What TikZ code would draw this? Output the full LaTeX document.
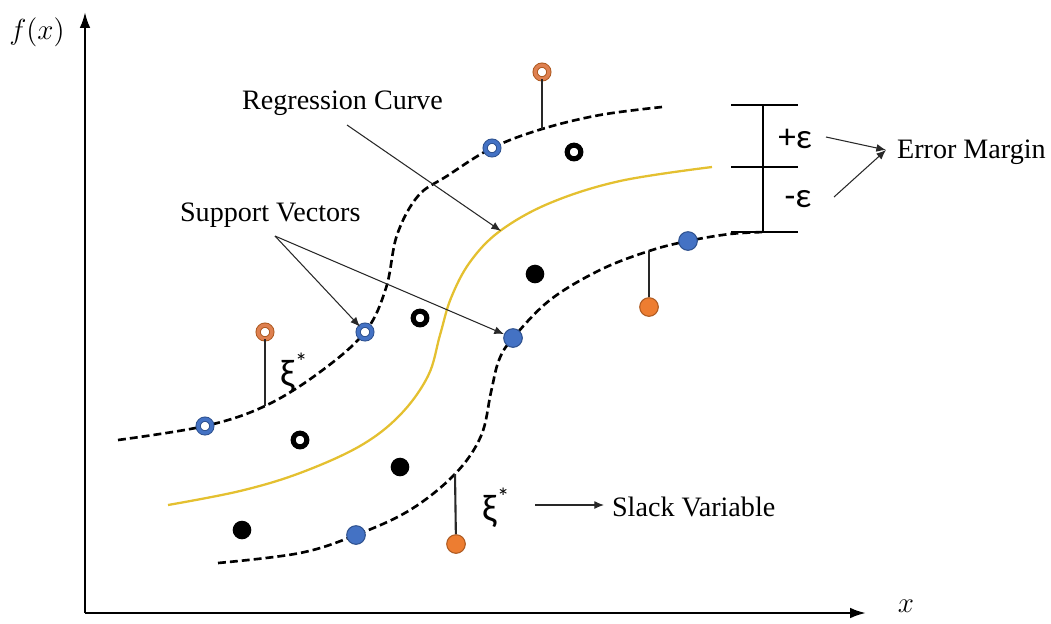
\documentclass[tikz,border=0pt]{standalone}
\usepackage{fix-cm}
\usepackage{fontspec}
\setmainfont{Liberation Serif}
\newfontfamily\calib{Carlito}
\usetikzlibrary{arrows.meta}
\definecolor{ptblue}{RGB}{68,114,196}
\definecolor{ptblueD}{RGB}{47,82,143}
\definecolor{ptorange}{RGB}{237,125,49}
\definecolor{ptorangeD}{RGB}{174,90,33}
\definecolor{ringbrown}{RGB}{222,128,80}
\definecolor{curveyellow}{RGB}{228,192,48}
\definecolor{stemgray}{RGB}{40,40,40}
\tikzset{
  lbl/.style={font=\fontsize{16}{18}\selectfont, inner sep=1pt},
  gk/.style={font=\calib\fontsize{20}{22}\selectfont, inner sep=1pt},
  xilbl/.style={font=\calib\fontsize{22}{24}\selectfont, inner sep=1pt},
  mathlbl/.style={font=\fontsize{16.5}{18}\selectfont, inner sep=1pt},
  dot/.style={circle, inner sep=0pt, minimum size=10.6pt},
  bluedot/.style={dot, fill=ptblue, draw=ptblueD, line width=0.6pt},
  orangedot/.style={dot, fill=ptorange, draw=ptorangeD, line width=0.6pt},
  blackdot/.style={dot, fill=black},
  ringbase/.style={circle, inner sep=0pt, minimum size=7.8pt, fill=white},
  bluering/.style={ringbase, draw=ptblueD, double=ptblue, double distance=1.9pt, line width=0.55pt},
  brownring/.style={ringbase, draw=ptorangeD, double=ringbrown, double distance=1.9pt, line width=0.55pt},
  blackring/.style={ringbase, draw=black, line width=2.9pt},
  margin/.style={line width=1.5pt, dash pattern=on 4.5pt off 2.3pt, line cap=butt},
  regcurve/.style={line width=1.3pt, draw=curveyellow},
  stem/.style={line width=1.2pt, draw=stemgray},
  arr/.style={line width=0.6pt, draw=stemgray, -{Latex[length=5.5pt, width=4.5pt]}},
  axis/.style={line width=1.3pt, -{Latex[length=9pt, width=6pt]}},
  bar/.style={line width=1.3pt}
}
\begin{document}
\begin{tikzpicture}[x=0.02cm, y=-0.02cm]
\useasboundingbox (0,0) rectangle (1051,623);

% axes
\coordinate (O) at (85,613);
\coordinate (yT) at (85,12);
\coordinate (xT) at (866,613);
\draw[axis] (O) -- (yT);
\draw[axis] (O) -- (xT);
\node[mathlbl] (fx) at (37,32) {$f(x)$};
\node[mathlbl] (xl) at (906,606) {$x$};

% margin curves and regression curve
\draw[margin] plot[smooth, tension=0.6] coordinates {(118,440) (205,426) (265,406) (320,372) (365,332) (386,288) (397,235) (418,196) (447,176) (492,148) (542,129) (600,115) (662,107)};
\draw[regcurve] plot[smooth, tension=0.6] coordinates {(168,505) (240,491) (300,473) (360,446) (400,415) (428,376) (440,335) (451,298) (470,262) (500,231) (550,203) (620,181) (712,167)};
\draw[margin] plot[smooth, tension=0.6] coordinates {(218,563) (300,553) (356,535) (410,510) (455,474) (481,436) (491,392) (499,360) (513,338) (550,300) (600,270) (649,251) (688,241) (730,234) (765,232)};

% stems
\coordinate (s1) at (265,406);
\coordinate (s2) at (542,129);
\coordinate (s3) at (455,474);
\coordinate (s4) at (649,251);
\node[brownring] (br1) at (265,332) {};
\node[brownring] (br2) at (542,72) {};
\node[orangedot] (od1) at (456,544) {};
\node[orangedot] (od2) at (649,307) {};
\draw[stem] (br1) -- (s1);
\draw[stem] (br2) -- (s2);
\draw[stem] (od1) -- (s3);
\draw[stem] (od2) -- (s4);

% points
\node[bluering] (sr1) at (205,426) {};
\node[bluering] (sr2) at (365,332) {};
\node[bluering] (sr3) at (492,148) {};
\node[blackring] (kr1) at (300,440) {};
\node[blackring] (kr2) at (420,318) {};
\node[blackring] (kr3) at (574,152) {};
\node[blackdot] (kd1) at (242,530) {};
\node[blackdot] (kd2) at (400,467) {};
\node[blackdot] (kd3) at (535,274) {};
\node[bluedot] (bd1) at (356,535) {};
\node[bluedot] (bd2) at (513,338) {};
\node[bluedot] (bd3) at (688,241) {};

% slack labels
\node[xilbl] (xi1) at (294,373) {ξ\raisebox{0.42em}{\fontsize{14}{14}\selectfont *}};
\node[xilbl] (xi2) at (496,508) {ξ\raisebox{0.42em}{\fontsize{14}{14}\selectfont *}};

% error margin bar
\coordinate (bt) at (763,105);
\coordinate (bm) at (763,167);
\coordinate (bb) at (763,232);
\draw[bar] (bt) -- (bb);
\draw[bar] ([xshift=-18]bt) -- ([xshift=20]bt);
\draw[bar] ([xshift=-18]bm) -- ([xshift=20]bm);
\draw[bar] ([xshift=-18]bb) -- ([xshift=20]bb);
\node[gk] (pe) at (795,139) {+ε};
\node[gk] (me) at (798,199) {-ε};

% text labels
\node[lbl, anchor=west] (rc) at (240,103) {Regression Curve};
\node[lbl, anchor=west] (sv) at (178,215) {Support Vectors};
\node[lbl, anchor=west] (em) at (895,152) {Error Margin};
\node[lbl, anchor=west] (sl) at (610,507) {Slack Variable};

% connectors
\coordinate (rcA) at (347,125);
\coordinate (rcT) at (501,231);
\draw[arr] (rcA) -- (rcT);
\coordinate (svA) at (275,236);
\draw[arr] (svA) -- (sr2);
\draw[arr] (svA) -- (bd2);
\coordinate (peA) at (826,137);
\coordinate (meA) at (834,197);
\coordinate (emT) at (886,150);
\draw[arr] (peA) -- (emT);
\draw[arr] (meA) -- (emT);
\coordinate (slA) at (535,505);
\coordinate (slT) at (604,505);
\draw[arr] (slA) -- (slT);
\end{tikzpicture}
\end{document}
